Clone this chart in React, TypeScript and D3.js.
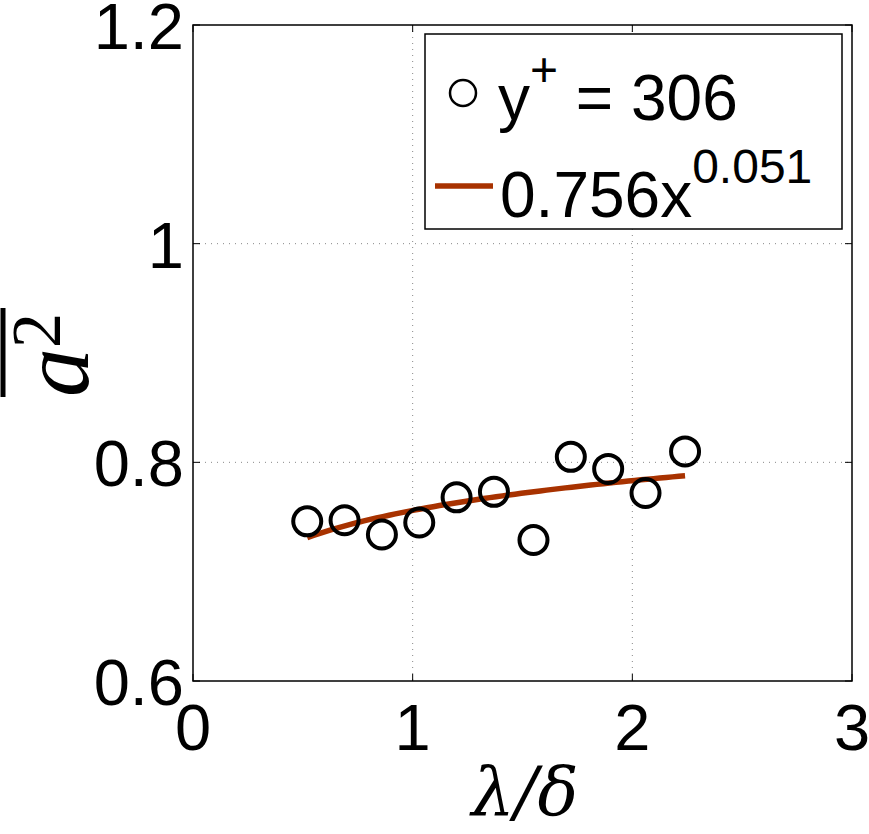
import React from "react";
import * as d3 from "d3";

// data
const lambdaDelta = [0.52, 0.69, 0.86, 1.03, 1.2, 1.37, 1.55, 1.72, 1.89, 2.06, 2.24];
const a2Mean = [0.746, 0.747, 0.734, 0.745, 0.768, 0.773, 0.729, 0.805, 0.794, 0.772, 0.81];
const fitCoef = 0.756;
const fitExp = 0.051;
const xTicks = [0, 1, 2, 3];
const yTicks = [0.6, 0.8, 1.0, 1.2];
const yTickLabels = ["0.6", "0.8", "1", "1.2"];

const width = 869;
const height = 834;
const left = 193;
const right = 852;
const top = 25;
const bottom = 681;
const fitColor = "#a83200";
const sans = "'Liberation Sans', Arial, sans-serif";
const serif = "'Liberation Serif', 'Times New Roman', serif";

const App = () => {
  const x = d3.scaleLinear().domain([0, 3]).range([left, right]);
  const y = d3.scaleLinear().domain([0.6, 1.2]).range([bottom, top]);

  // fit curve over the data range
  const x0 = lambdaDelta[0];
  const x1 = lambdaDelta[lambdaDelta.length - 1];
  const xs = d3.range(0, 61).map((i) => x0 + (i / 60) * (x1 - x0));
  const line = d3
    .line<number>()
    .x((d) => x(d))
    .y((d) => y(fitCoef * Math.pow(d, fitExp)));

  return (
    <svg width={width} height={height} style={{ position: "absolute", left: 0, top: 0, background: "#fff" }}>
      {/* grid */}
      {xTicks.slice(1, -1).map((t) => (
        <line key={"gx" + t} x1={x(t)} x2={x(t)} y1={top} y2={bottom} stroke="#888" strokeWidth={1} strokeDasharray="1,5" />
      ))}
      {yTicks.slice(1, -1).map((t) => (
        <line key={"gy" + t} x1={left} x2={right} y1={y(t)} y2={y(t)} stroke="#888" strokeWidth={1} strokeDasharray="1,5" />
      ))}
      {/* ticks */}
      {xTicks.map((t) => (
        <g key={"tx" + t}>
          <line x1={x(t)} x2={x(t)} y1={bottom} y2={bottom - 7} stroke="#000" />
          <line x1={x(t)} x2={x(t)} y1={top} y2={top + 7} stroke="#000" />
        </g>
      ))}
      {yTicks.map((t) => (
        <g key={"ty" + t}>
          <line x1={left} x2={left + 7} y1={y(t)} y2={y(t)} stroke="#000" />
          <line x1={right} x2={right - 7} y1={y(t)} y2={y(t)} stroke="#000" />
        </g>
      ))}
      <rect x={left} y={top} width={right - left} height={bottom - top} fill="none" stroke="#000" strokeWidth={1.5} />

      {/* tick labels */}
      {xTicks.map((t) => (
        <text key={"lx" + t} x={x(t)} y={750} textAnchor="middle" fontFamily={sans} fontSize={65}>
          {t}
        </text>
      ))}
      {yTicks.map((t, i) => (
        <text key={"ly" + t} x={184} y={y(t) + 24} textAnchor="end" fontFamily={sans} fontSize={65}>
          {yTickLabels[i]}
        </text>
      ))}

      {/* fit */}
      <path d={line(xs) || ""} fill="none" stroke={fitColor} strokeWidth={5.5} />

      {/* data */}
      {lambdaDelta.map((d, i) => (
        <circle key={"p" + i} cx={x(d)} cy={y(a2Mean[i])} r={14} fill="none" stroke="#000" strokeWidth={4} />
      ))}

      {/* axis labels */}
      <text x={525} y={815} textAnchor="middle" fontFamily="'DejaVu Serif', serif" fontStyle="italic" fontSize={68}>
        λ/δ
      </text>
      <g transform="translate(88,397) rotate(-90)">
        <line x1={0} x2={89} y1={-85} y2={-85} stroke="#000" strokeWidth={5} />
        <text x={0} y={0} fontFamily={serif} fontStyle="italic" fontSize={98}>
          a
          <tspan fontStyle="normal" fontSize={70} dy={-28}>2</tspan>
        </text>
      </g>

      {/* legend */}
      <rect x={425} y={34} width={417} height={195} fill="#fff" stroke="#000" strokeWidth={1.5} />
      <circle cx={463} cy={93} r={13} fill="none" stroke="#000" strokeWidth={2.5} />
      <text x={498} y={120} fontFamily={sans} fontSize={64}>
        y<tspan fontSize={48} dy={-34}>+</tspan>
        <tspan dy={34}> = 306</tspan>
      </text>
      <line x1={435} x2={493} y1={186} y2={186} stroke={fitColor} strokeWidth={5.5} />
      <text x={500} y={217} fontFamily={sans} fontSize={64}>
        0.756x<tspan fontSize={48} dy={-34}>0.051</tspan>
      </text>
    </svg>
  );
};

export default App;
